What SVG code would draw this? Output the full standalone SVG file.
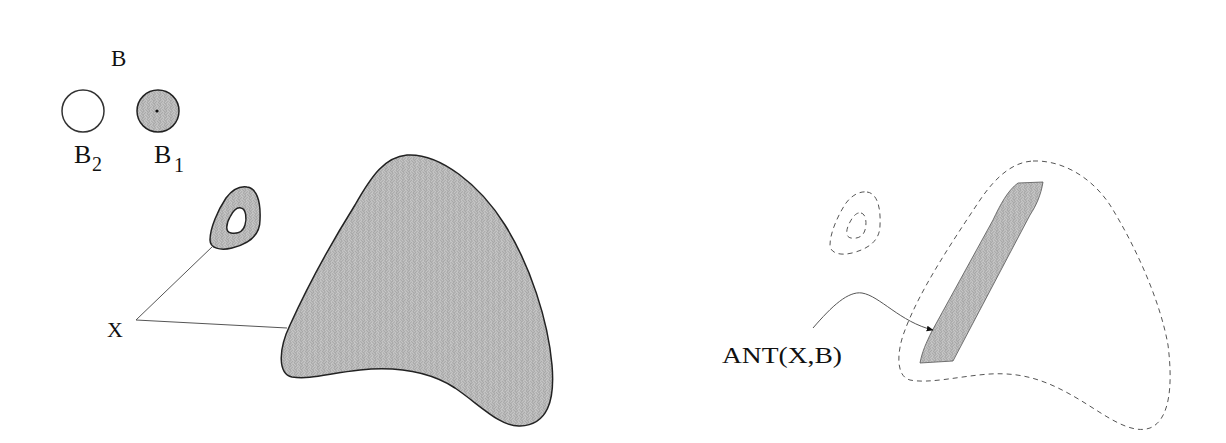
<svg xmlns="http://www.w3.org/2000/svg" width="1226" height="443" viewBox="0 0 1226 443">
  <style>
    .lbl { font-family: "Liberation Serif", "Times New Roman", serif; fill: #111; }
    .shape { fill: url(#weave); stroke: #222; stroke-width: 1.5; }
    .hole { fill: #fff; stroke: #222; stroke-width: 1.5; }
    .dash { fill: none; stroke: #555; stroke-width: 1; stroke-dasharray: 5 4; }
    .conn { fill: none; stroke: #555; stroke-width: 1; }
  </style>
  <defs>
    <pattern id="weave" width="8" height="8" patternUnits="userSpaceOnUse" patternTransform="rotate(45)">
      <rect width="8" height="8" fill="#d8d8d8"/>
      <path d="M0,0.75 H4 M0,2.75 H4 M4,4.75 H8 M4,6.75 H8 M4.75,0 V4 M6.75,0 V4 M0.75,4 V8 M2.75,4 V8" stroke="#8e8e8e" stroke-width="0.9"/>
    </pattern>
    <marker id="arrow" viewBox="0 0 10 10" refX="9" refY="5" markerWidth="7" markerHeight="7" markerUnits="userSpaceOnUse" orient="auto">
      <path d="M0,1 L10,5 L0,9 Z" fill="#111"/>
    </marker>
    <path id="smallOuter" d="M 247,187 C 256,188 261,200 260,220 C 260,236 248,244 232,248 C 220,251 210,248 210,240 C 210,228 218,210 226,198 C 232,190 240,186 247,187 Z"/>
    <path id="smallHole" d="M 241,208 C 246,209 247,218 245,225 C 243,232 237,234 231,233 C 225,232 226,224 230,217 C 233,211 237,207 241,208 Z"/>
  </defs>

  <rect width="1226" height="443" fill="#ffffff"/>

  <g id="label-B">
    <text class="lbl" x="111" y="66" font-size="23">B</text>
  </g>

  <g id="B2">
    <circle cx="83" cy="111" r="21" fill="#fff" stroke="#333" stroke-width="1.5"/>
    <text class="lbl" x="74" y="163" font-size="26">B</text>
    <text class="lbl" x="92" y="171" font-size="20">2</text>
  </g>

  <g id="B1">
    <circle cx="158" cy="111" r="21" class="shape"/>
    <circle cx="157" cy="111" r="1.6" fill="#111"/>
    <text class="lbl" x="154" y="163" font-size="26">B</text>
    <text class="lbl" x="174" y="172" font-size="20">1</text>
  </g>

  <g id="small-object">
    <use href="#smallOuter" class="shape"/>
    <use href="#smallHole" class="hole"/>
  </g>

  <g id="large-object">
    <path class="shape" d="M 407,155 C 440,153 480,185 505,225 C 530,265 548,320 552,365 C 555,400 548,425 520,426 C 500,427 480,405 455,388 C 430,372 400,366 360,370 C 330,373 310,380 292,377 C 278,374 278,350 290,325 C 305,292 330,245 355,205 C 372,175 385,157 407,155 Z"/>
  </g>

  <g id="point-X">
    <text class="lbl" x="107" y="337" font-size="22">X</text>
  </g>

  <g id="dashed-small" transform="translate(620,5)">
    <use href="#smallOuter" class="dash"/>
    <use href="#smallHole" class="dash"/>
  </g>

  <g id="dashed-large">
    <path class="dash" d="M 1033,161 C 1060,160 1090,175 1110,205 C 1135,245 1160,300 1168,345 C 1173,385 1170,420 1150,428 C 1130,435 1105,415 1080,400 C 1050,382 1025,372 990,374 C 960,376 930,384 910,380 C 895,376 897,350 905,330 C 920,290 950,245 980,200 C 995,178 1012,162 1033,161 Z"/>
  </g>

  <g id="ANT-region">
    <path d="M 1018,183 L 1043,182 C 1041,195 1036,206 1030,215 L 953,361 L 920,363 C 922,352 926,343 932,331 L 993,220 C 1000,205 1008,190 1018,183 Z" fill="url(#weave)" stroke="#555" stroke-width="0.8"/>
  </g>

  <g id="label-ANT">
    <text class="lbl" x="722" y="363" font-size="24" textLength="120" lengthAdjust="spacingAndGlyphs">ANT(X,B)</text>
  </g>

  <g id="connectors">
    <path class="conn" d="M 213,246 L 136,320 L 287,328"/>
    <path class="conn" d="M 813,328 C 832,306 848,291 862,293 C 880,296 900,322 933,330" marker-end="url(#arrow)"/>
  </g>
</svg>
